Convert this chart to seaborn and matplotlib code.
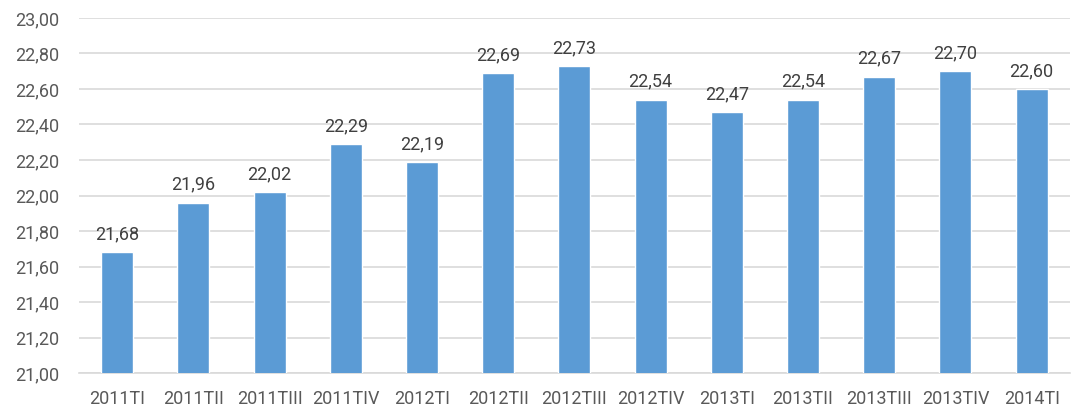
import matplotlib
matplotlib.use("Agg")
import matplotlib.pyplot as plt
import seaborn as sns
import pandas as pd
from matplotlib.ticker import FuncFormatter

# Data
quarters = ["2011TI", "2011TII", "2011TIII", "2011TIV", "2012TI", "2012TII", "2012TIII",
            "2012TIV", "2013TI", "2013TII", "2013TIII", "2013TIV", "2014TI"]
values = [21.68, 21.96, 22.02, 22.29, 22.19, 22.69, 22.73,
          22.54, 22.47, 22.54, 22.67, 22.70, 22.60]

df = pd.DataFrame({"quarter": quarters, "value": values})

sns.set_style("white")
plt.rcParams["font.family"] = ["Roboto", "DejaVu Sans"]

fig = plt.figure(figsize=(10.73, 4.09), dpi=100)
ax = fig.add_axes([0.0737, 0.088, 0.9233, 0.868])

sns.barplot(data=df, x="quarter", y="value", color="#5B9BD5", saturation=1,
            width=0.42, ax=ax, zorder=3)

ax.set_ylim(21.0, 23.0)
ax.set_yticks([21.0 + 0.2 * i for i in range(11)])
ax.yaxis.set_major_formatter(FuncFormatter(lambda v, p: f"{v:.2f}".replace(".", ",")))
ax.grid(axis="y", color="#D9D9D9", linewidth=1.2, zorder=0)
ax.set_axisbelow(True)

for s in ["top", "right", "left"]:
    ax.spines[s].set_visible(False)
ax.spines["bottom"].set_color("#D9D9D9")
ax.spines["bottom"].set_linewidth(1.2)

ax.tick_params(axis="both", length=0, labelsize=13, colors="#595959")
ax.tick_params(axis="y", pad=14)
ax.tick_params(axis="x", pad=12)
ax.set_xlabel("")
ax.set_ylabel("")

for i, v in enumerate(values):
    ax.text(i, v + 0.05, f"{v:.2f}".replace(".", ","), ha="center", va="bottom",
            fontsize=13, color="#404040")

fig.savefig("out.png", dpi=100)
